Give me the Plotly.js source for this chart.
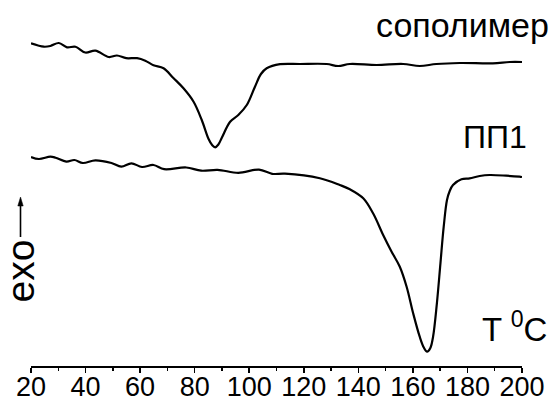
<!DOCTYPE html>
<html>
<head>
<meta charset="utf-8">
<script src="https://cdn.plot.ly/plotly-3.0.1.min.js"></script>
<style>html,body{margin:0;padding:0;background:#fff;}#chart{width:553px;height:401px;}</style>
</head>
<body>
<div id="chart"></div>
<script>
// DSC curves, temperature in °C, heat flow in arbitrary units (curves offset vertically)
const copolymerT = [20, 24.7, 27.1, 30.2, 33.2, 36.3, 39.9, 43.6, 48.5, 51.5, 54.9, 58.9, 61.9, 64.9, 68.6, 72.2, 75.9, 79.6, 82.6, 85.1, 86.4, 87.5, 88.7, 90.0, 93.0, 96.0, 99.1, 102.1, 104.3, 106.4, 111.3, 118.6, 128.4, 132.6, 136.9, 146.7, 156.4, 162.5, 168.6, 177.2, 189.3, 195.5, 200];
const copolymerY = [322.7, 319.3, 320, 323, 318.7, 319.3, 313.5, 315.3, 309, 310.5, 307.8, 307.8, 305.3, 300.8, 297.7, 288, 277.7, 264.3, 246, 227, 221, 218.7, 221.5, 228.5, 244.3, 251, 261, 279.3, 292, 297.7, 301.8, 302, 302, 300, 302, 301, 302, 300, 302, 303, 302.7, 304, 304];

const pp1T = [20, 22.9, 27.1, 29, 33, 35.9, 39, 43.6, 49.5, 53.1, 56.8, 60.7, 64.9, 68.8, 76.9, 82.4, 88.4, 96.0, 103.6, 108.4, 113.1, 125.9, 133.2, 136.9, 141.8, 145.4, 149.1, 152.2, 155.2, 157.7, 160.1, 162.5, 164.0, 165.2, 166.4, 167.4, 168.8, 170.1, 171.3, 172.5, 173.5, 174.7, 177.8, 180.8, 184.5, 188.1, 194.2, 199.1, 200];
const pp1Y = [209, 207, 209.3, 208.3, 204.3, 206, 203, 205.7, 203, 199.3, 202.7, 199, 201, 196.8, 198.5, 195.3, 196.2, 193.2, 196.4, 192.2, 192.3, 187.7, 181, 176.7, 167.7, 152.7, 131, 114.3, 99.3, 79.3, 52.7, 29.3, 18.5, 14.3, 18, 29.3, 62.7, 102.7, 139.3, 166, 175, 181, 186.7, 187.7, 190, 191, 190.3, 189.3, 189];

const xTickVals = [20, 40, 60, 80, 100, 120, 140, 160, 180, 200];
const labelCopolymer = 'сополимер';
const labelPP1 = 'ПП1';
const labelTemp = 'T <sup>0</sup>C';
const labelExo = 'exo';

const FONT = 'Liberation Sans, Arial, sans-serif';
const lineStyle = {color: '#000', width: 2.2, shape: 'spline', smoothing: 1};

const data = [
  {x: copolymerT, y: copolymerY, type: 'scatter', mode: 'lines', line: lineStyle, hoverinfo: 'skip'},
  {x: pp1T, y: pp1Y, type: 'scatter', mode: 'lines', line: lineStyle, hoverinfo: 'skip'}
];

const px = v => (v - 31) / 491;   // figure pixel -> paper x
const py = v => (366 - v) / 366;  // figure pixel -> paper y

const layout = {
  width: 553, height: 401,
  margin: {l: 31, r: 31, t: 0, b: 35, pad: 0},
  paper_bgcolor: '#fff', plot_bgcolor: '#fff',
  showlegend: false,
  xaxis: {
    range: [20, 200], tickvals: xTickVals, ticktext: xTickVals.map(String),
    showline: true, linecolor: '#000', linewidth: 2,
    ticks: 'outside', ticklen: 5, tickwidth: 1.5, tickcolor: '#000',
    minor: {ticks: 'outside', ticklen: 3, tickwidth: 1.5, tickcolor: '#000', dtick: 10, tick0: 20, showgrid: false},
    showgrid: false, zeroline: false,
    ticklabelstandoff: -9,
    tickfont: {family: FONT, size: 27, color: '#000'},
    fixedrange: true
  },
  yaxis: {range: [0, 366], visible: false, showgrid: false, zeroline: false, fixedrange: true},
  shapes: [
    {type: 'line', xref: 'paper', yref: 'paper', x0: px(20.5), x1: px(20.5), y0: py(237), y1: py(204),
     line: {color: '#000', width: 1.6}},
    {type: 'path', xref: 'paper', yref: 'paper',
     path: `M ${px(17.8)} ${py(206)} L ${px(20.5)} ${py(197)} L ${px(23.2)} ${py(206)} Z`,
     fillcolor: '#000', line: {color: '#000', width: 0.5}}
  ],
  annotations: [
    {text: labelCopolymer, xref: 'paper', yref: 'paper', x: px(375), y: py(25),
     xanchor: 'left', yanchor: 'middle', align: 'left', showarrow: false, borderpad: 0,
     font: {family: FONT, size: 34, color: '#000'}},
    {text: labelPP1, xref: 'paper', yref: 'paper', x: px(462), y: py(137),
     xanchor: 'left', yanchor: 'middle', align: 'left', showarrow: false, borderpad: 0,
     font: {family: FONT, size: 32, color: '#000'}},
    {text: labelTemp, xref: 'paper', yref: 'paper', x: px(548), y: py(327),
     xanchor: 'right', yanchor: 'middle', align: 'right', showarrow: false, borderpad: 0,
     font: {family: FONT, size: 33, color: '#000'}},
    {text: labelExo, xref: 'paper', yref: 'paper', x: px(19.5), y: py(271),
     xanchor: 'center', yanchor: 'middle', textangle: -90, showarrow: false, borderpad: 0,
     font: {family: FONT, size: 39, color: '#000'}}
  ]
};

Plotly.newPlot('chart', data, layout, {staticPlot: true, displayModeBar: false});
</script>
</body>
</html>
